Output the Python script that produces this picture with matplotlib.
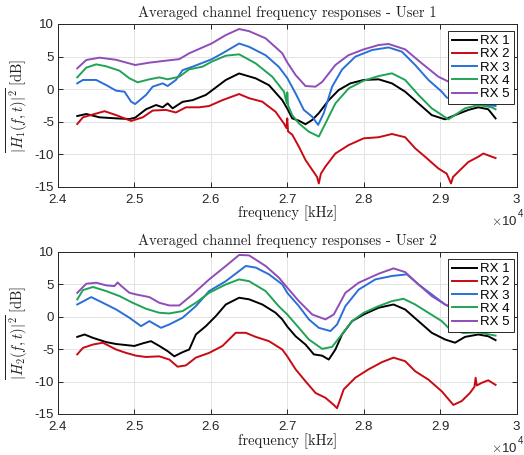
import matplotlib
matplotlib.use("Agg")
import matplotlib.pyplot as plt
from matplotlib.ticker import FuncFormatter, MultipleLocator

plt.rcParams['mathtext.fontset'] = 'cm'
plt.rcParams['font.family'] = ['Liberation Sans', 'DejaVu Sans']

labels = ['RX 1', 'RX 2', 'RX 3', 'RX 4', 'RX 5']
colors = ['#000000', '#c80a14', '#2a6fd8', '#21a355', '#8e4db8']

# ---------- User 1 ----------
u1_rx1_f = [24252, 24370, 24543, 24761, 24935, 25009, 25152, 25283, 25370, 25435, 25500, 25630, 25761, 25935, 26009, 26196, 26370, 26587, 26761, 26935, 27000, 27065, 27152, 27239, 27326, 27413, 27543, 27674, 27826, 28000, 28196, 28370, 28543, 28717, 28891, 29065, 29196, 29370, 29500, 29630, 29726]
u1_rx1_v = [-4.14, -3.83, -4.34, -4.5, -4.6, -4.4, -3.1, -2.45, -2.8, -2.2, -2.96, -1.96, -1.7, -0.9, -0.25, 1.4, 2.4, 1.65, 0.6, -1.7, -3.0, -4.5, -4.86, -5.4, -4.75, -3.7, -1.7, -0.14, 0.88, 1.4, 1.5, 0.88, -0.4, -2.2, -4.0, -4.65, -4.0, -3.2, -2.8, -3.1, -4.5]

u1_rx2_f = [24252, 24326, 24457, 24609, 24761, 24957, 25109, 25239, 25413, 25543, 25674, 25848, 25978, 26152, 26370, 26500, 26674, 26848, 26957, 26990, 27000, 27010, 27065, 27152, 27239, 27326, 27390, 27413, 27440, 27500, 27630, 27804, 28000, 28196, 28370, 28543, 28674, 28804, 28978, 29087, 29143, 29170, 29239, 29370, 29500, 29565, 29726]
u1_rx2_v = [-5.37, -4.34, -3.9, -3.4, -4.0, -4.9, -4.34, -3.3, -3.2, -3.6, -2.8, -2.8, -2.6, -1.7, -0.76, -1.4, -1.94, -3.5, -5.3, -6.0, -4.5, -6.5, -7.0, -8.85, -10.9, -12.4, -13.5, -14.5, -13.0, -11.9, -9.9, -8.6, -7.57, -7.4, -6.9, -7.4, -9.1, -10.4, -12.2, -13.0, -14.5, -13.5, -12.7, -11.2, -10.4, -9.9, -10.6]

u1_rx3_f = [24252, 24326, 24500, 24630, 24761, 24870, 24957, 25009, 25152, 25239, 25370, 25435, 25543, 25630, 25761, 26009, 26152, 26370, 26500, 26717, 26891, 27000, 27109, 27217, 27326, 27404, 27478, 27587, 27717, 27891, 28109, 28326, 28500, 28674, 28848, 29022, 29087, 29300, 29500, 29726]
u1_rx3_v = [0.88, 1.4, 1.4, 0.62, -0.25, -0.4, -1.94, -2.3, -0.9, 0.37, 0.88, 0.47, 1.4, 2.9, 3.44, 4.57, 5.5, 7.0, 6.5, 5.2, 3.4, 1.7, -0.66, -3.2, -4.24, -5.5, -3.7, 0.37, 3.0, 4.98, 6.0, 6.4, 5.75, 3.7, 1.4, -0.4, -1.3, -2.0, -2.3, -2.6]

u1_rx4_f = [24252, 24370, 24500, 24630, 24804, 24935, 25043, 25196, 25326, 25435, 25587, 25717, 25891, 26009, 26196, 26370, 26587, 26804, 26957, 26995, 27000, 27010, 27065, 27152, 27283, 27413, 27500, 27630, 27804, 28000, 28196, 28370, 28543, 28717, 28891, 29109, 29326, 29500, 29674, 29726]
u1_rx4_v = [1.8, 3.3, 3.8, 3.5, 2.83, 1.65, 1.04, 1.5, 1.8, 1.5, 1.9, 3.03, 3.44, 4.2, 5.13, 5.34, 3.95, 1.9, -0.4, -2.2, -0.5, -2.5, -4.0, -5.27, -6.55, -7.3, -5.27, -2.2, 0.11, 1.29, 2.0, 2.42, 1.4, -0.9, -2.96, -4.65, -2.96, -2.45, -2.8, -3.1]

u1_rx5_f = [24252, 24370, 24543, 24761, 25009, 25196, 25413, 25587, 25717, 26009, 26196, 26370, 26500, 26717, 26935, 27000, 27109, 27239, 27370, 27457, 27630, 27800, 28000, 28196, 28326, 28543, 28761, 28978, 29100, 29300, 29500, 29726]
u1_rx5_v = [3.19, 4.47, 4.83, 4.5, 3.7, 4.06, 4.37, 4.6, 5.5, 7.0, 8.3, 9.23, 8.9, 7.8, 5.5, 4.1, 2.16, 0.47, 0.37, 1.1, 3.7, 5.2, 6.1, 6.77, 6.93, 6.1, 3.95, 1.9, 1.2, 0.3, -0.3, -0.8]

# ---------- User 2 ----------
u2_rx1_f = [24252, 24348, 24457, 24630, 24761, 25000, 25109, 25217, 25326, 25435, 25522, 25630, 25717, 25804, 25935, 26065, 26196, 26370, 26500, 26674, 26848, 26935, 27000, 27109, 27239, 27348, 27457, 27543, 27630, 27717, 27848, 28000, 28196, 28391, 28543, 28717, 28891, 29065, 29196, 29326, 29500, 29630, 29726]
u2_rx1_v = [-3.1, -2.73, -3.25, -3.9, -4.2, -4.5, -4.1, -3.76, -4.5, -5.3, -6.1, -5.46, -5.05, -2.73, -1.44, 0.1, 1.9, 2.94, 2.7, 1.9, 0.62, -0.4, -1.5, -3.0, -4.28, -5.8, -6.0, -6.6, -5.05, -2.73, -0.67, 0.36, 1.4, 1.9, 1.13, -0.67, -2.47, -3.5, -4.0, -3.1, -2.73, -3.0, -3.6]

u2_rx2_f = [24252, 24326, 24457, 24587, 24761, 24891, 25022, 25152, 25326, 25457, 25565, 25674, 25804, 25978, 26152, 26326, 26457, 26587, 26761, 26935, 27000, 27109, 27239, 27370, 27500, 27609, 27652, 27739, 27891, 28065, 28239, 28391, 28543, 28674, 28848, 29022, 29174, 29283, 29391, 29450, 29465, 29480, 29543, 29630, 29726]
u2_rx2_v = [-5.8, -4.8, -4.28, -4.0, -5.05, -5.57, -6.0, -6.2, -6.1, -6.6, -7.7, -7.5, -6.3, -5.57, -4.5, -2.47, -2.47, -3.1, -3.76, -5.05, -6.1, -8.1, -9.95, -11.75, -12.5, -13.6, -14.1, -11.2, -9.4, -8.1, -7.0, -6.3, -6.85, -8.4, -9.7, -11.5, -13.6, -13.0, -11.75, -10.8, -9.4, -10.6, -10.2, -9.8, -10.5]

u2_rx3_f = [24252, 24435, 24587, 24761, 24935, 25087, 25196, 25348, 25457, 25630, 25804, 25978, 26196, 26457, 26587, 26761, 26935, 27000, 27152, 27283, 27413, 27565, 27652, 27761, 27935, 28152, 28370, 28565, 28717, 28891, 29065, 29300, 29500, 29726]
u2_rx3_v = [1.9, 3.04, 2.16, 1.13, -0.15, -1.44, -0.67, -1.7, -1.18, -0.15, 1.65, 3.97, 5.5, 7.84, 7.6, 6.55, 5.0, 3.7, 1.65, -0.4, -1.7, -2.2, -1.18, 1.65, 4.2, 5.77, 6.3, 6.55, 5.0, 3.45, 1.9, 0.5, -0.2, -0.8]

u2_rx4_f = [24252, 24326, 24457, 24630, 24804, 24978, 25152, 25326, 25457, 25630, 25804, 25978, 26196, 26370, 26500, 26717, 26891, 27000, 27152, 27283, 27457, 27587, 27696, 27848, 28000, 28196, 28370, 28522, 28674, 28848, 29022, 29109, 29300, 29500, 29726]
u2_rx4_v = [2.68, 4.12, 4.6, 3.97, 3.2, 2.16, 1.24, 0.62, 0.52, 0.88, 2.16, 3.7, 5.0, 5.77, 5.5, 3.97, 1.6, 0.36, -1.7, -3.5, -4.95, -4.64, -3.0, -0.67, 0.62, 1.65, 2.42, 2.78, 1.9, 0.62, -0.67, -1.7, -2.5, -2.4, -2.9]

u2_rx5_f = [24252, 24370, 24500, 24630, 24740, 24780, 24830, 24935, 25022, 25196, 25326, 25457, 25587, 25761, 25978, 26196, 26370, 26500, 26717, 26891, 27000, 27152, 27326, 27500, 27609, 27761, 27935, 28196, 28391, 28543, 28717, 28891, 29065, 29300, 29500, 29726]
u2_rx5_v = [3.7, 5.1, 5.26, 4.85, 4.74, 5.3, 4.74, 3.7, 3.45, 3.04, 2.16, 1.75, 1.75, 3.45, 5.77, 7.84, 9.54, 9.48, 7.84, 6.03, 4.5, 2.42, 0.36, -0.4, 0.36, 3.7, 5.26, 6.65, 7.47, 6.9, 5.0, 3.2, 1.9, 0.8, 0.2, -0.3]

users = [
    ("1", [(u1_rx1_f, u1_rx1_v), (u1_rx2_f, u1_rx2_v), (u1_rx3_f, u1_rx3_v), (u1_rx4_f, u1_rx4_v), (u1_rx5_f, u1_rx5_v)]),
    ("2", [(u2_rx1_f, u2_rx1_v), (u2_rx2_f, u2_rx2_v), (u2_rx3_f, u2_rx3_v), (u2_rx4_f, u2_rx4_v), (u2_rx5_f, u2_rx5_v)]),
]

fig = plt.figure(figsize=(5.24, 4.55), dpi=100)
W, H = 524, 455
ax_rects = [
    [58.0 / W, 1 - 186.7 / H, (516.5 - 58.0) / W, 162.7 / H],
    [58.0 / W, 1 - 414 / H, (516.5 - 58.0) / W, 162 / H],
]
axcol = '#262626'
for (uid, series), rect in zip(users, ax_rects):
    ax = fig.add_axes(rect)
    hpx = rect[3] * H
    wpx = rect[2] * W
    for (f, v), lab, c in zip(series, labels, colors):
        ax.plot(f, v, color=c, lw=1.4, label=lab)
    ax.set_xlim(24000, 30000)
    ax.set_ylim(-15, 10)
    ax.xaxis.set_major_locator(MultipleLocator(1000))
    ax.yaxis.set_major_locator(MultipleLocator(5))
    ax.xaxis.set_major_formatter(FuncFormatter(lambda x, p: '%g' % round(x / 1e4, 2)))
    ax.yaxis.set_major_formatter(FuncFormatter(lambda y, p: '%g' % y))
    ax.grid(True, color='#e3e3e3', lw=0.7)
    ax.set_axisbelow(True)
    for s in ax.spines.values():
        s.set_color(axcol)
        s.set_linewidth(0.7)
    ax.tick_params(direction='in', top=True, right=True, length=3.5, width=0.7,
                   colors=axcol, labelsize=9.5)
    ax.tick_params(axis='x', pad=5)
    ax.tick_params(axis='y', pad=3)
    ax.set_title('Averaged channel frequency responses - User ' + uid,
                 fontfamily='cmr10', fontsize=10.5, pad=5, color='#222222')
    ax.set_xlabel('frequency [kHz]', fontfamily='cmr10', fontsize=10.5, labelpad=0,
                  color='#222222')
    ax.set_ylabel(r'$\overline{|H_' + uid + r'(f,t)|^2}\ \mathrm{[dB]}$', fontsize=10.5,
                  labelpad=3, color='#222222')
    xr = 1 + 1.0 / wpx
    ax.text(xr, -38.3 / hpx, r'$\times$10', transform=ax.transAxes, ha='right',
            va='baseline', fontsize=9.5, color=axcol)
    ax.text(xr, -30.5 / hpx, '4', transform=ax.transAxes, ha='left', va='baseline',
            fontsize=7, color=axcol)
    leg = ax.legend(loc='upper right', bbox_to_anchor=(1 - 2.5 / wpx, 1 - 7 / hpx),
                    borderaxespad=0, fontsize=9.5, frameon=True, fancybox=False,
                    framealpha=1, edgecolor=axcol, handlelength=1.9,
                    labelspacing=0.08, borderpad=0.3, handletextpad=0.25)
    leg.get_frame().set_linewidth(0.7)
    for t in leg.get_texts():
        t.set_color('#000000')

fig.savefig('out.png', dpi=100)
